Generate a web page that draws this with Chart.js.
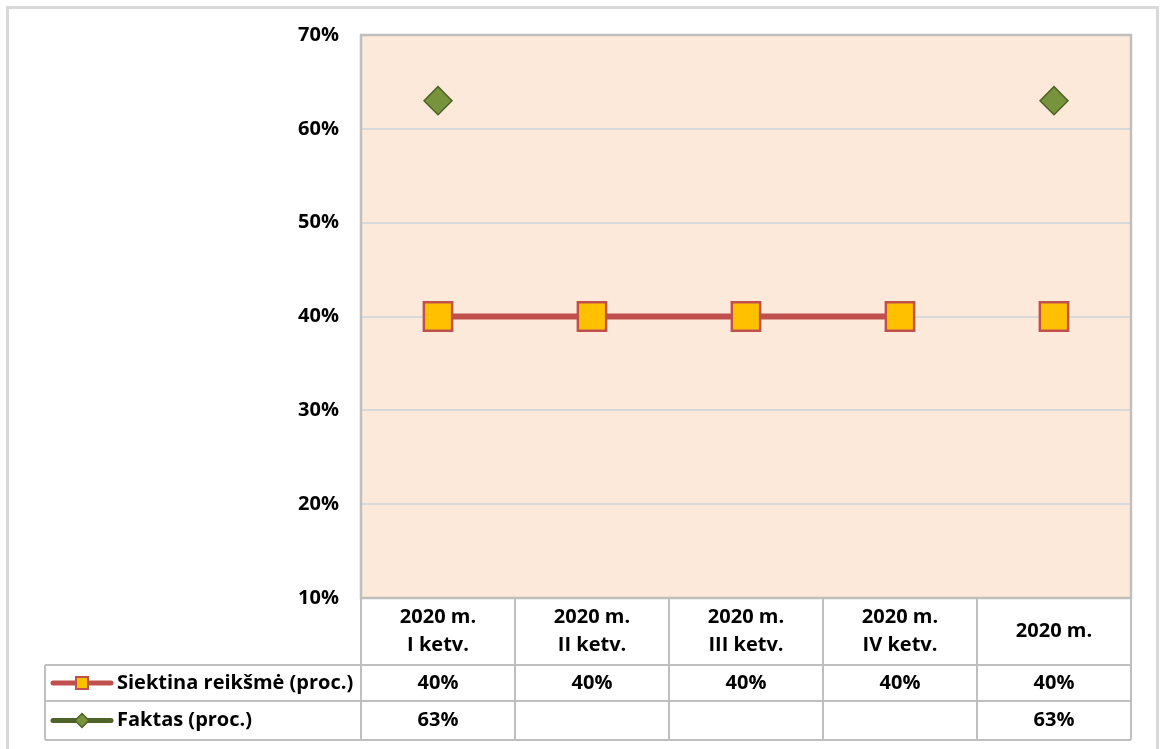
<!DOCTYPE html>
<html>
<head>
<meta charset="utf-8">
<script src="https://cdn.jsdelivr.net/npm/chart.js@4"></script>
<style>
  body { margin: 0; background: #fff; }
  #chartWrap { width: 1160px; height: 749px; }
</style>
</head>
<body>
<div id="chartWrap"><canvas id="chartTarget" width="1160" height="749"></canvas></div>
<script>
// Categories (table header, two lines each)
const categories = [
  ["2020 m.", "I ketv."],
  ["2020 m.", "II ketv."],
  ["2020 m.", "III ketv."],
  ["2020 m.", "IV ketv."],
  ["2020 m."],
];
// Series names
const seriesNames = ["Siektina reikšmė (proc.)", "Faktas (proc.)"];
// Values in percent
const targetValues = [40, 40, 40, 40, 40];
const factValues = [63, null, null, null, 63];
// Y axis range
const yMin = 10;
const yMax = 70;
const yStep = 10;

const FONT = "'Open Sans'";
const FONT_SIZE = 20;
const redLine = "#C0504D";
const yellowFill = "#FFC000";
const greenFill = "#77933C";
const greenLine = "#4F6228";
const tableBorder = "#BFBFBF";

// Format number as percent
function pct(v) {
  return v === null || v === undefined ? "" : v + "%";
}

// Draw small marker for the legend keys inside the table
function drawKey(ctx, x1, x2, y, color, marker) {
  ctx.save();
  ctx.strokeStyle = color;
  ctx.lineWidth = 5;
  ctx.lineCap = "round";
  ctx.beginPath();
  ctx.moveTo(x1, y);
  ctx.lineTo(x2, y);
  ctx.stroke();
  const cx = (x1 + x2) / 2;
  if (marker === "square") {
    ctx.fillStyle = yellowFill;
    ctx.strokeStyle = redLine;
    ctx.lineWidth = 2;
    ctx.fillRect(cx - 6, y - 6, 12, 12);
    ctx.strokeRect(cx - 6, y - 6, 12, 12);
  } else {
    ctx.fillStyle = greenFill;
    ctx.strokeStyle = greenLine;
    ctx.lineWidth = 1.5;
    ctx.beginPath();
    ctx.moveTo(cx, y - 7);
    ctx.lineTo(cx + 7, y);
    ctx.lineTo(cx, y + 7);
    ctx.lineTo(cx - 7, y);
    ctx.closePath();
    ctx.fill();
    ctx.stroke();
  }
  ctx.restore();
}

// Plugin: plot background, frame and data table
const tablePlugin = {
  id: "dataTable",
  beforeDraw(chart) {
    const { ctx, chartArea: a } = chart;
    ctx.save();
    // outer chart frame
    ctx.strokeStyle = "#D9D9D9";
    ctx.lineWidth = 3;
    ctx.strokeRect(7.5, 7.5, 1150, 800);
    // plot area background
    ctx.fillStyle = "#FDE9D9";
    ctx.fillRect(a.left, a.top, a.right - a.left, a.bottom - a.top);
    ctx.restore();
  },
  afterDraw(chart) {
    const { ctx, chartArea: a } = chart;
    const xScale = chart.scales.x;
    const colW = (a.right - a.left) / categories.length;
    const headerBottom = a.bottom + 67;
    const row1Bottom = headerBottom + 36;
    const row2Bottom = row1Bottom + 39;
    const tableLeft = 45;

    ctx.save();
    // plot border
    ctx.strokeStyle = tableBorder;
    ctx.lineWidth = 2.5;
    ctx.strokeRect(a.left, a.top, a.right - a.left, a.bottom - a.top);

    // table lines
    ctx.lineWidth = 2;
    ctx.beginPath();
    // horizontal
    ctx.moveTo(a.left, headerBottom);
    ctx.lineTo(a.right, headerBottom);
    ctx.moveTo(tableLeft, headerBottom);
    ctx.lineTo(a.left, headerBottom);
    ctx.moveTo(tableLeft, row1Bottom);
    ctx.lineTo(a.right, row1Bottom);
    ctx.moveTo(tableLeft, row2Bottom);
    ctx.lineTo(a.right, row2Bottom);
    // vertical
    ctx.moveTo(tableLeft, headerBottom);
    ctx.lineTo(tableLeft, row2Bottom);
    for (let i = 0; i <= categories.length; i++) {
      const x = a.left + i * colW;
      ctx.moveTo(x, a.bottom);
      ctx.lineTo(x, row2Bottom);
    }
    ctx.stroke();

    // header text
    ctx.fillStyle = "#000";
    ctx.font = "bold " + FONT_SIZE + "px " + FONT;
    ctx.textAlign = "center";
    ctx.textBaseline = "middle";
    const headerMid = (a.bottom + headerBottom) / 2;
    categories.forEach((lines, i) => {
      const x = xScale.getPixelForValue(i);
      const lh = 28;
      const y0 = headerMid - ((lines.length - 1) * lh) / 2;
      lines.forEach((t, j) => ctx.fillText(t, x, y0 + j * lh));
    });

    // value rows
    const rows = [
      { name: seriesNames[0], values: targetValues, color: redLine, marker: "square", y: (headerBottom + row1Bottom) / 2 },
      { name: seriesNames[1], values: factValues, color: greenLine, marker: "diamond", y: (row1Bottom + row2Bottom) / 2 },
    ];
    rows.forEach((row) => {
      row.values.forEach((v, i) => {
        ctx.fillText(pct(v), xScale.getPixelForValue(i), row.y);
      });
      drawKey(ctx, 53, 111, row.y, row.color, row.marker);
      ctx.textAlign = "left";
      ctx.fillStyle = "#000";
      ctx.fillText(row.name, 117, row.y);
      ctx.textAlign = "center";
    });
    ctx.restore();
  },
};

const ctx = document.getElementById("chartTarget").getContext("2d");
const chart = new Chart(ctx, {
  type: "line",
  data: {
    labels: categories.map((c) => c.join(" ")),
    datasets: [
      {
        label: seriesNames[0],
        data: targetValues,
        borderColor: redLine,
        borderWidth: 6,
        pointStyle: "rect",
        pointRadius: 20,
        pointBackgroundColor: yellowFill,
        pointBorderColor: redLine,
        pointBorderWidth: 2.5,
        // last point is not joined in the original
        segment: {
          borderColor: (c) => (c.p0DataIndex === 3 ? "rgba(0,0,0,0)" : undefined),
        },
      },
      {
        label: seriesNames[1],
        data: factValues,
        showLine: false,
        pointStyle: "rectRot",
        pointRadius: 14,
        pointBackgroundColor: greenFill,
        pointBorderColor: greenLine,
        pointBorderWidth: 1.5,
      },
    ],
  },
  options: {
    responsive: false,
    animation: false,
    layout: {
      padding: { left: 0, top: 35, right: 29, bottom: 151 },
    },
    plugins: {
      legend: { display: false },
      tooltip: { enabled: false },
    },
    scales: {
      x: {
        display: false,
        offset: true,
      },
      y: {
        min: yMin,
        max: yMax,
        afterFit: (scale) => {
          scale.width = 361;
        },
        border: { display: false },
        grid: {
          color: "#D9D9D9",
          lineWidth: 2,
          drawTicks: false,
        },
        ticks: {
          stepSize: yStep,
          padding: 22,
          color: "#000",
          font: { family: "Open Sans", size: FONT_SIZE, weight: "bold" },
          callback: (v) => v + "%",
        },
      },
    },
  },
  plugins: [tablePlugin],
});
</script>
</body>
</html>
